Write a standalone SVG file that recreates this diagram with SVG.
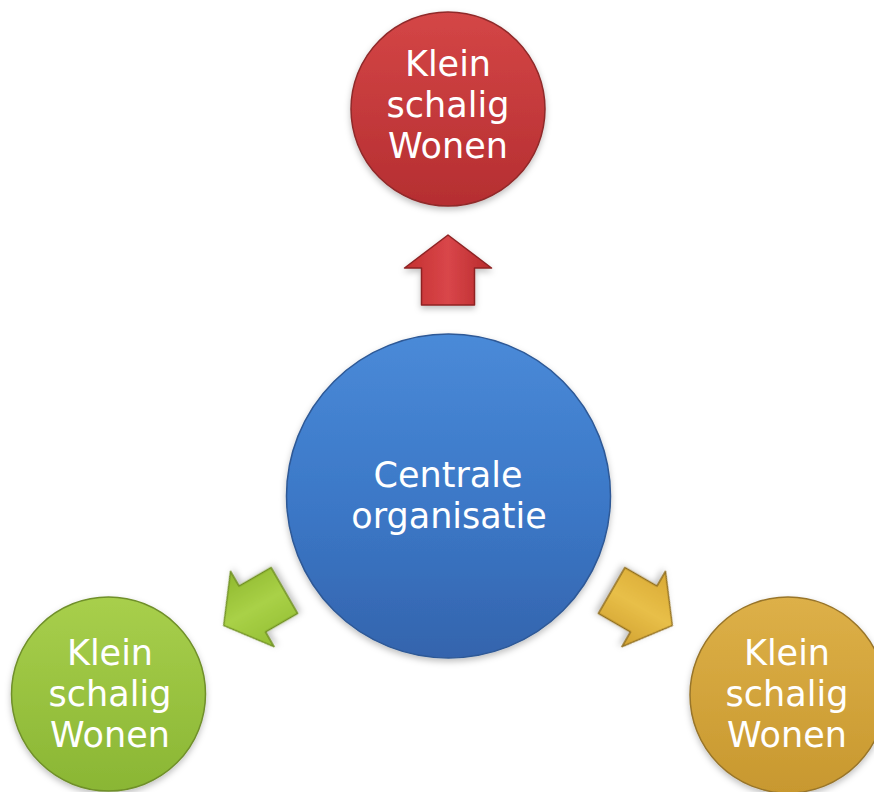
<svg xmlns="http://www.w3.org/2000/svg" width="874" height="792" viewBox="0 0 874 792">
<defs>
<style>
.lbl{font-family:"DejaVu Sans","Liberation Sans",sans-serif;font-size:35px;fill:#ffffff;text-anchor:middle}
</style>
<filter id="sh" x="-20%" y="-20%" width="140%" height="140%">
<feDropShadow dx="0" dy="3" stdDeviation="3" flood-color="#000000" flood-opacity="0.25"/>
</filter>
<linearGradient id="gRed" x1="0" y1="0" x2="0" y2="1">
<stop offset="0" stop-color="#d44646"/><stop offset="1" stop-color="#b52e31"/>
</linearGradient>
<linearGradient id="gBlue" x1="0" y1="0" x2="0" y2="1">
<stop offset="0" stop-color="#4a8ad8"/><stop offset="0.55" stop-color="#3b77c6"/><stop offset="1" stop-color="#3464ad"/>
</linearGradient>
<linearGradient id="gGreen" x1="0" y1="0" x2="0" y2="1">
<stop offset="0" stop-color="#a8cf4c"/><stop offset="1" stop-color="#8ab634"/>
</linearGradient>
<linearGradient id="gOrange" x1="0" y1="0" x2="0" y2="1">
<stop offset="0" stop-color="#ddb048"/><stop offset="1" stop-color="#c8982f"/>
</linearGradient>
<linearGradient id="aRed" x1="0" y1="0" x2="1" y2="0">
<stop offset="0" stop-color="#c4302f"/><stop offset="0.5" stop-color="#d9464a"/><stop offset="1" stop-color="#b82a2c"/>
</linearGradient>
<linearGradient id="aGreen" x1="0" y1="0" x2="1" y2="0">
<stop offset="0" stop-color="#94bf34"/><stop offset="0.5" stop-color="#a9d147"/><stop offset="1" stop-color="#8fb82f"/>
</linearGradient>
<linearGradient id="aOrange" x1="0" y1="0" x2="1" y2="0">
<stop offset="0" stop-color="#d9a935"/><stop offset="0.5" stop-color="#e8bf48"/><stop offset="1" stop-color="#d2a232"/>
</linearGradient>
<polygon id="arrowShape" points="0,-35 43.5,-2 26.5,-2 26.5,35 -26.5,35 -26.5,-2 -43.5,-2"/>
</defs>
<rect width="874" height="792" fill="#ffffff"/>
<g id="connectors">
<use href="#arrowShape" transform="translate(448,270)" fill="url(#aRed)" stroke="#8e2324" stroke-width="1.5" stroke-linejoin="round" filter="url(#sh)"/>
<use href="#arrowShape" transform="translate(448,496) rotate(-120) translate(0,-224)" fill="url(#aGreen)" stroke="#6f8f22" stroke-width="1.5" stroke-linejoin="round" filter="url(#sh)"/>
<use href="#arrowShape" transform="translate(448,496) rotate(120) translate(0,-224)" fill="url(#aOrange)" stroke="#8f6d1f" stroke-width="1.5" stroke-linejoin="round" filter="url(#sh)"/>
</g>
<g id="node-top">
<circle cx="448" cy="109" r="97" fill="url(#gRed)" stroke="#8f2a2a" stroke-width="1.5" filter="url(#sh)"/>
<text class="lbl" x="448" y="76">Klein</text>
<text class="lbl" x="448" y="117">schalig</text>
<text class="lbl" x="448" y="158">Wonen</text>
</g>
<g id="node-center">
<circle cx="448.5" cy="496" r="162" fill="url(#gBlue)" stroke="#2e5996" stroke-width="1.5" filter="url(#sh)"/>
<text class="lbl" x="448" y="487">Centrale</text>
<text class="lbl" x="449" y="528">organisatie</text>
</g>
<g id="node-left">
<circle cx="108.5" cy="694" r="97" fill="url(#gGreen)" stroke="#6f8f2a" stroke-width="1.5" filter="url(#sh)"/>
<text class="lbl" x="110" y="665">Klein</text>
<text class="lbl" x="110" y="706">schalig</text>
<text class="lbl" x="110" y="747">Wonen</text>
</g>
<g id="node-right">
<circle cx="788" cy="695" r="98" fill="url(#gOrange)" stroke="#98752a" stroke-width="1.5" filter="url(#sh)"/>
<text class="lbl" x="787" y="665">Klein</text>
<text class="lbl" x="787" y="706">schalig</text>
<text class="lbl" x="787" y="747">Wonen</text>
</g>
</svg>
